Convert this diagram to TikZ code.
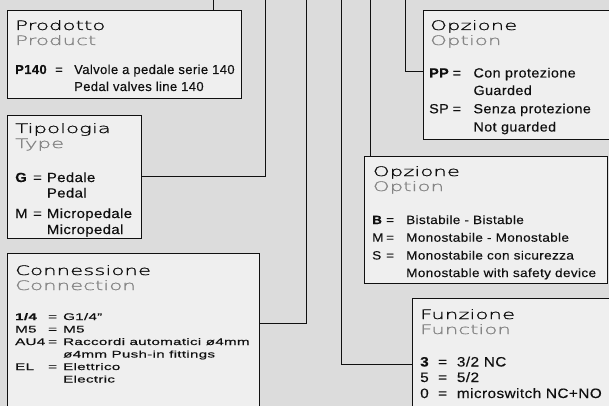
\documentclass[tikz,border=0pt]{standalone}
\usepackage{fontspec}
\setmainfont{Liberation Sans}
\newfontfamily\ttlfont[FakeStretch=1.64,FakeBold=1.2]{DejaVu Sans ExtraLight}
\newfontfamily\bodyP[LetterSpace=3,FakeBold=0.3]{Liberation Sans}
\newfontfamily\bodyQ[FakeStretch=1.08,LetterSpace=3,FakeBold=0.3]{Liberation Sans}
\newfontfamily\bodyT[FakeStretch=1.13,LetterSpace=3,FakeBold=0.3]{Liberation Sans}
\newfontfamily\bodyC[FakeStretch=1.58,LetterSpace=3,FakeBold=0.3]{Liberation Sans}
\definecolor{bg}{HTML}{DCDCDC}
\definecolor{boxfill}{HTML}{EFEFEF}
\definecolor{subgray}{HTML}{858585}
\definecolor{ink}{HTML}{101010}
\newcommand\entryrow[4]{\makebox[#1pt][l]{#3}\makebox[#2pt][l]{=}#4}
\tikzset{
  panel/.style={draw=ink, fill=boxfill, line width=1.2pt, anchor=north west, inner sep=0pt},
  ghost/.style={anchor=north west, inner sep=0pt},
  wire/.style={draw=ink, line width=1pt},
  ttl/.style={anchor=base west, inner sep=0pt, font=\ttlfont\fontsize{13}{15}\selectfont, text=ink},
  sub/.style={ttl, text=subgray},
  txt/.style={anchor=base west, inner sep=0pt, text=ink},
  fA/.style={font=\bodyP\fontsize{13}{14}\selectfont},
  fB/.style={font=\bodyT\fontsize{13.2}{14}\selectfont},
  fC/.style={font=\bodyC\fontsize{9.6}{12}\selectfont},
  fD/.style={font=\bodyQ\fontsize{13.3}{14}\selectfont},
  fE/.style={font=\bodyT\fontsize{12}{13}\selectfont},
  fF/.style={font=\bodyT\fontsize{13.6}{14}\selectfont},
}
\begin{document}
\begin{tikzpicture}[x=1pt,y=-1pt]
\useasboundingbox (0,0) rectangle (609,406);
\clip (0,0) rectangle (609,406);
\fill[bg] (0,0) rectangle (609,406);

% connector ends at the top edge
\coordinate (c1) at (213,0);
\coordinate (c2) at (265,0);
\coordinate (c3) at (306,0);
\coordinate (c4) at (341,0);
\coordinate (c5) at (370,0);
\coordinate (c6) at (405,0);

% box outlines (anchors)
\node[ghost, minimum width=234pt, minimum height=88pt] (prod) at (7,10) {};
\node[ghost, minimum width=134pt, minimum height=123pt] (tip) at (7,115) {};
\node[ghost, minimum width=252pt, minimum height=160pt] (con) at (7,253) {};
\node[ghost, minimum width=190pt, minimum height=129pt] (optA) at (423,10) {};
\node[ghost, minimum width=243pt, minimum height=127pt] (optB) at (364,155.5) {};
\node[ghost, minimum width=200pt, minimum height=115pt] (fun) at (412,298) {};

% connectors
\draw[wire] (c1) -- (c1 |- prod.north);
\draw[wire] (tip.east) -| (c2);
\path (con.north east) ++(0,70) coordinate (k3);
\draw[wire] (k3) -| (c3);
\path (fun.north west) ++(0,66) coordinate (k4);
\draw[wire] (c4) |- (k4);
\draw[wire] (c5) -- (c5 |- optB.north);
\path (optA.north west) ++(0,62) coordinate (k6);
\draw[wire] (c6) |- (k6);

% visible boxes
\node[panel, minimum width=234pt, minimum height=88pt] (prodbox) at (7,10) {};
\node[panel, minimum width=134pt, minimum height=123pt] (tipbox) at (7,115) {};
\node[panel, minimum width=252pt, minimum height=160pt] (conbox) at (7,253) {};
\node[panel, minimum width=190pt, minimum height=129pt] (optAbox) at (423,10) {};
\node[panel, minimum width=243pt, minimum height=127pt] (optBbox) at (364,155.5) {};
\node[panel, minimum width=200pt, minimum height=115pt] (funbox) at (412,298) {};

% Prodotto
\node[ttl] (t1) at (15,30) {Prodotto};
\node[sub] (s1) at (15,45) {Product};
\node[txt,fA] (a1) at (15,74) {\entryrow{40}{19}{\bfseries P140}{Valvole a pedale serie 140}};
\node[txt,fA] (a2) at (74,91) {Pedal valves line 140};

% Tipologia
\node[ttl] (t2) at (15,133) {Tipologia};
\node[sub] (s2) at (15,148) {Type};
\node[txt,fB] (b1) at (15,182) {\entryrow{18}{13.7}{\bfseries G}{Pedale}};
\node[txt,fB] (b2) at (46.7,197.5) {Pedal};
\node[txt,fB] (b3) at (15,218) {\entryrow{18}{13.7}{M}{Micropedale}};
\node[txt,fB] (b4) at (46.7,234) {Micropedal};

% Connessione
\node[ttl] (t3) at (15,275) {Connessione};
\node[sub] (s3) at (15,290) {Connection};
\node[txt,fC] (d1) at (15,320) {\entryrow{33}{15}{\bfseries 1/4}{G1/4”}};
\node[txt,fC] (d2) at (15,332.5) {\entryrow{33}{15}{M5}{M5}};
\node[txt,fC] (d3) at (15,345) {\entryrow{33}{15}{AU4}{Raccordi automatici ø4mm}};
\node[txt,fC] (d4) at (63,357.5) {ø4mm Push-in fittings};
\node[txt,fC] (d5) at (15,370) {\entryrow{33}{15}{EL}{Elettrico}};
\node[txt,fC] (d6) at (63,382.5) {Electric};

% Opzione (PP/SP)
\node[ttl] (t4) at (430,30) {Opzione};
\node[sub] (s4) at (430,45) {Option};
\node[txt,fD] (e1) at (429,77.5) {\entryrow{23.5}{20.8}{\bfseries PP}{Con protezione}};
\node[txt,fD] (e2) at (473.3,95) {Guarded};
\node[txt,fD] (e3) at (429,113.3) {\entryrow{23.5}{20.8}{SP}{Senza protezione}};
\node[txt,fD] (e4) at (473.3,131.5) {Not guarded};

% Opzione (B/M/S)
\node[ttl] (t5) at (372.7,176) {Opzione};
\node[sub] (s5) at (372.7,191) {Option};
\node[txt,fE] (g1) at (372,224) {\entryrow{14}{20}{\bfseries B}{Bistabile - Bistable}};
\node[txt,fE] (g2) at (372,241.7) {\entryrow{14}{20}{M}{Monostabile - Monostable}};
\node[txt,fE] (g3) at (372,259.5) {\entryrow{14}{20}{S}{Monostabile con sicurezza}};
\node[txt,fE] (g4) at (406,277) {Monostable with safety device};

% Funzione
\node[ttl] (t6) at (420,319) {Funzione};
\node[sub] (s6) at (420,334) {Function};
\node[txt,fF] (h1) at (420,366.5) {\entryrow{18}{18.7}{\bfseries 3}{3/2 NC}};
\node[txt,fF] (h2) at (420,382) {\entryrow{18}{18.7}{5}{5/2}};
\node[txt,fF] (h3) at (420,398) {\entryrow{18}{18.7}{0}{microswitch NC+NO}};
\end{tikzpicture}
\end{document}
